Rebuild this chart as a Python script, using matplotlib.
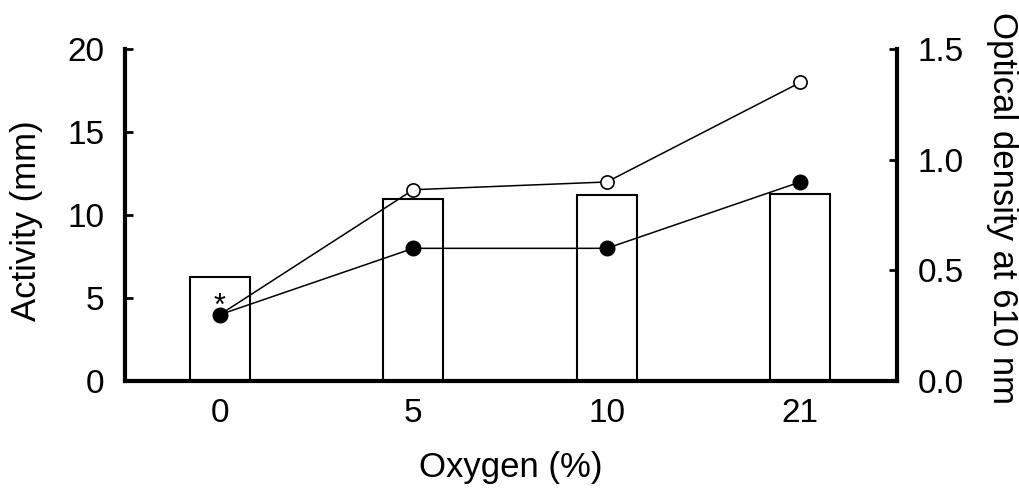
import matplotlib
matplotlib.use("Agg")
import matplotlib.pyplot as plt
import numpy as np

plt.rcParams['font.family'] = ['Liberation Sans', 'DejaVu Sans']

categories = ["0", "5", "10", "21"]
activity = [6.3, 11.0, 11.2, 11.3]          # bars, left axis (mm)
od_open = [0.30, 0.865, 0.90, 1.35]          # open circles, right axis
od_filled = [0.30, 0.60, 0.60, 0.90]         # filled circles, right axis
left_ticks = [0, 5, 10, 15, 20]
right_ticks = [0.0, 0.5, 1.0, 1.5]
right_ticklabels = ["0.0", "0.5", "1.0", "1.5"]

fig = plt.figure(figsize=(10.19, 4.88), dpi=100)
ax = fig.add_axes([125/1019, 1-381/488, (897-125)/1019, (381-49.3)/488])
ax2 = ax.twinx()

x = np.arange(len(categories))
ax.bar(x, activity, width=0.31, color='white', edgecolor='black', linewidth=1.5, zorder=2)

ax2.plot(x, od_open, color='black', linewidth=1.1, marker='o', markersize=9.5,
         markerfacecolor='white', markeredgecolor='black', markeredgewidth=1.2, zorder=3)
ax2.plot(x, od_filled, color='black', linewidth=1.1, marker='o', markersize=10.5,
         markerfacecolor='black', markeredgecolor='black', zorder=4)
ax2.annotate('*', xy=(x[0], od_filled[0]), xytext=(0, 0), textcoords='offset points',
             ha='center', va='baseline', fontsize=22)

ax.set_xlim(-0.49, 3.50)
ax.set_ylim(0, 20)
ax2.set_ylim(0, 1.5)

ax.set_xticks(x)
ax.set_xticklabels(categories)
ax.set_yticks(left_ticks)
ax2.set_yticks(right_ticks)
ax2.set_yticklabels(right_ticklabels)

for a in (ax, ax2):
    a.spines['top'].set_visible(False)
    for s in a.spines.values():
        s.set_linewidth(3)
ax.spines['right'].set_visible(False)
ax2.spines['left'].set_visible(False)
ax2.spines['bottom'].set_visible(False)

ax.tick_params(axis='x', length=0, labelsize=24, pad=12)
ax.tick_params(axis='y', direction='in', length=6, width=2, labelsize=24, pad=15)
ax2.tick_params(axis='y', direction='in', length=6, width=2, labelsize=24, pad=15)

fig.text(27/1019, 1-221/488, 'Activity (mm)', rotation=90, ha='center', va='center', fontsize=25)
fig.text(1002/1019, 1-208/488, 'Optical density at 610 nm', rotation=270, ha='center', va='center', fontsize=25)
fig.text(511/1019, 1-468/488, 'Oxygen (%)', ha='center', va='center', fontsize=25)

fig.savefig('out.png', dpi=100)
